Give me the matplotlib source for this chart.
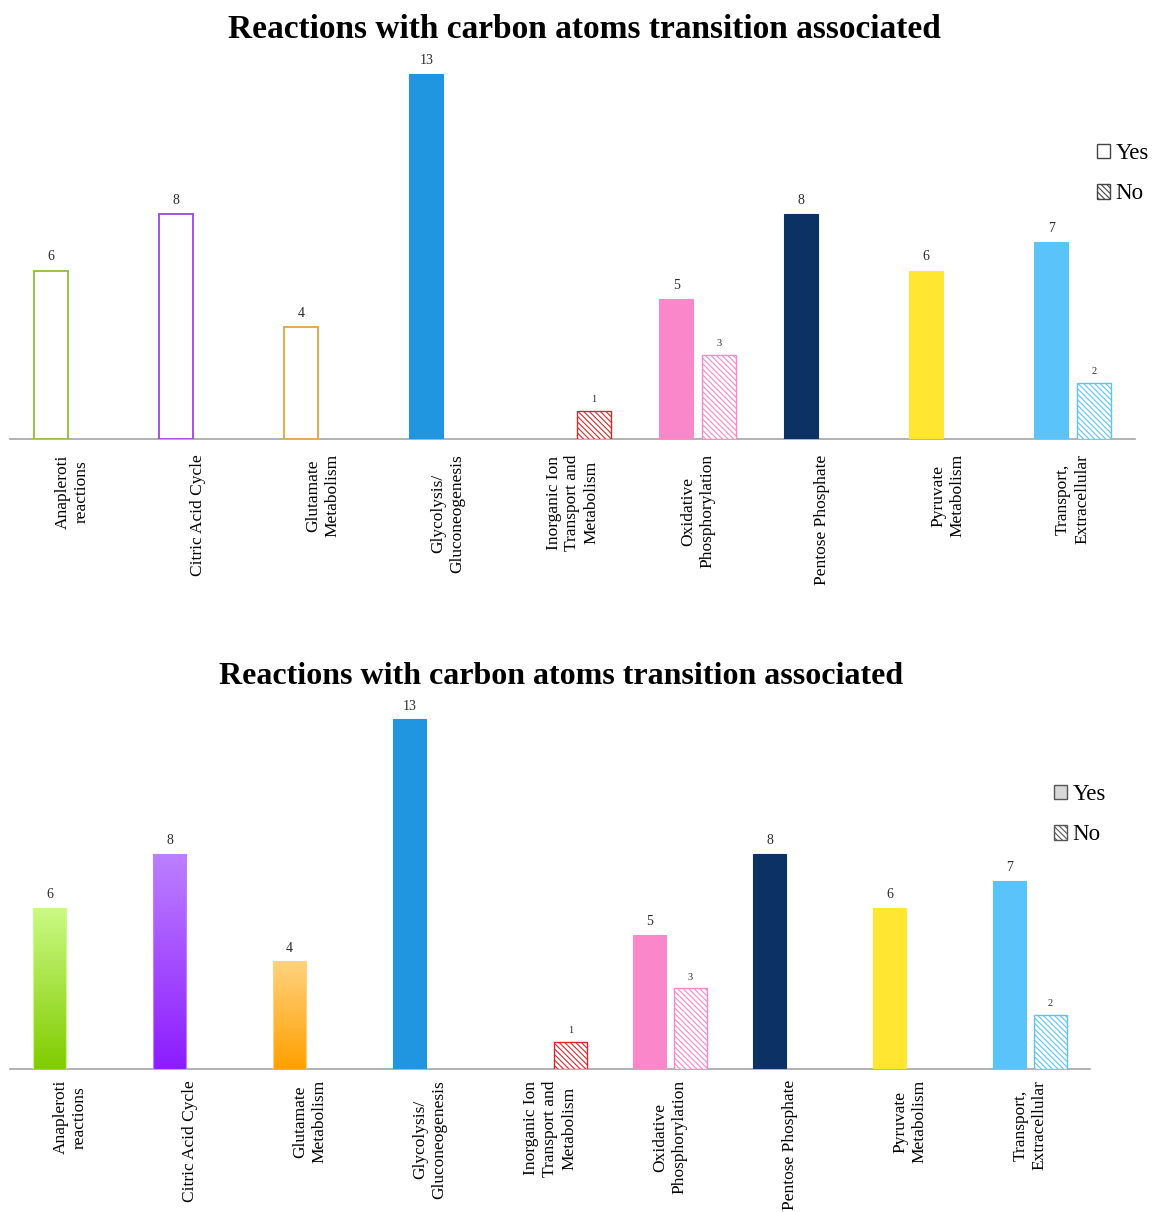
import numpy as np
import matplotlib
matplotlib.use("Agg")
import matplotlib.pyplot as plt
from matplotlib.patches import Patch
from matplotlib.colors import LinearSegmentedColormap

plt.rcParams['font.family'] = ['Liberation Serif', 'DejaVu Serif']
plt.rcParams['hatch.linewidth'] = 0.8

title = "Reactions with carbon atoms transition associated"
categories = ["Anapleroti\nreactions", "Citric Acid Cycle", "Glutamate\nMetabolism",
              "Glycolysis/\nGluconeogenesis", "Inorganic Ion\nTransport and\nMetabolism",
              "Oxidative\nPhosphorylation", "Pentose Phosphate", "Pyruvate\nMetabolism",
              "Transport,\nExtracellular"]
yes_counts = [6, 8, 4, 13, 0, 5, 8, 6, 7]
no_counts = [0, 0, 0, 0, 1, 3, 0, 0, 2]

yes_colors = ['#8DBE35', '#9A45E8', '#E2A440', '#2196E0', '#FFFFFF',
              '#F987C9', '#0C3263', '#FFE631', '#5AC4FA']
no_colors = ['#FFFFFF', '#FFFFFF', '#FFFFFF', '#FFFFFF', '#D42A2A',
             '#F987C9', '#FFFFFF', '#FFFFFF', '#5AC4FA']
# gradient (top, bottom) for the three first bars of the lower chart
gradients = {0: ('#CBFA85', '#80CC00'), 1: ('#BC80FF', '#8C1CFF'), 2: ('#FFD27F', '#FFA000')}

W, H = 1152, 1212
fig = plt.figure(figsize=(W / 100, H / 100), dpi=100)


def make_axes(left, right, base, unit):
    top = base - 14 * unit
    return fig.add_axes([left / W, 1 - base / H, (right - left) / W, (base - top) / H])


def draw_panel(ax, hollow, pad):
    x = np.arange(len(categories))
    width = 0.27
    for i in range(len(categories)):
        if yes_counts[i] > 0:
            if hollow and i in gradients:
                ax.bar(x[i] - 0.17, yes_counts[i], width, facecolor='white',
                       edgecolor=yes_colors[i], linewidth=1.3, zorder=3)
            elif i in gradients:
                bar = ax.bar(x[i] - 0.17, yes_counts[i], width, facecolor='none',
                             edgecolor=gradients[i][0], linewidth=0.8, zorder=4)[0]
                cmap = LinearSegmentedColormap.from_list('g', [gradients[i][1], gradients[i][0]])
                grad = np.linspace(0, 1, 256).reshape(-1, 1)
                im = ax.imshow(grad, extent=[x[i] - 0.17 - width / 2, x[i] - 0.17 + width / 2,
                                             0, yes_counts[i]],
                               origin='lower', cmap=cmap, aspect='auto', zorder=3)
                im.set_clip_path(bar)
            else:
                ax.bar(x[i] - 0.17, yes_counts[i], width, color=yes_colors[i],
                       edgecolor=yes_colors[i], linewidth=0.8, zorder=3)
            ax.text(x[i] - 0.17, yes_counts[i] + 0.25, str(yes_counts[i]), ha='center',
                    va='bottom', fontsize=10, color='#2b2b2b')
        if no_counts[i] > 0:
            ax.bar(x[i] + 0.17, no_counts[i], width, facecolor='white',
                   edgecolor=no_colors[i], hatch='\\\\\\\\\\\\', linewidth=1.0, zorder=3)
            ax.text(x[i] + 0.17, no_counts[i] + 0.25, str(no_counts[i]), ha='center',
                    va='bottom', fontsize=7.5, color='#2b2b2b')
    ax.set_xlim(-0.5, len(categories) - 0.5)
    ax.set_ylim(0, 14)
    ax.set_xticks(x)
    ax.set_xticklabels(categories, rotation=90, ha='center', va='top',
                       multialignment='center', fontsize=12.5, linespacing=1.25)
    ax.tick_params(axis='x', length=0, pad=pad)
    ax.set_yticks([])
    for s in ['top', 'right', 'left']:
        ax.spines[s].set_visible(False)
    ax.spines['bottom'].set_color('#A6A6A6')
    ax.spines['bottom'].set_linewidth(1.2)


ax1 = make_axes(10, 1135, 439, 28.08)
draw_panel(ax1, hollow=True, pad=11)
fig.text(584 / W, 1 - 29 / H, title, ha='center', va='center', fontsize=24, fontweight='bold')
leg1 = [Patch(facecolor='white', edgecolor='#444444', label='Yes'),
        Patch(facecolor='white', edgecolor='#444444', hatch='\\\\\\\\\\\\', label='No')]
fig.legend(handles=leg1, loc='upper left', bbox_to_anchor=(1097 / W, 1 - 143 / H),
           frameon=False, fontsize=16.5, handlelength=0.55, handleheight=0.6,
           handletextpad=0.25, labelspacing=0.85, borderpad=0, borderaxespad=0)

ax2 = make_axes(10, 1090, 1069, 26.9)
draw_panel(ax2, hollow=False, pad=8)
fig.text(561 / W, 1 - 676 / H, title, ha='center', va='center', fontsize=23, fontweight='bold')
leg2 = [Patch(facecolor='#D8D8D8', edgecolor='#555555', label='Yes'),
        Patch(facecolor='white', edgecolor='#555555', hatch='\\\\\\\\\\\\', label='No')]
fig.legend(handles=leg2, loc='upper left', bbox_to_anchor=(1054 / W, 1 - 784 / H),
           frameon=False, fontsize=16.5, handlelength=0.55, handleheight=0.6,
           handletextpad=0.25, labelspacing=0.85, borderpad=0, borderaxespad=0)

fig.savefig('out.png', dpi=100, facecolor='white')
